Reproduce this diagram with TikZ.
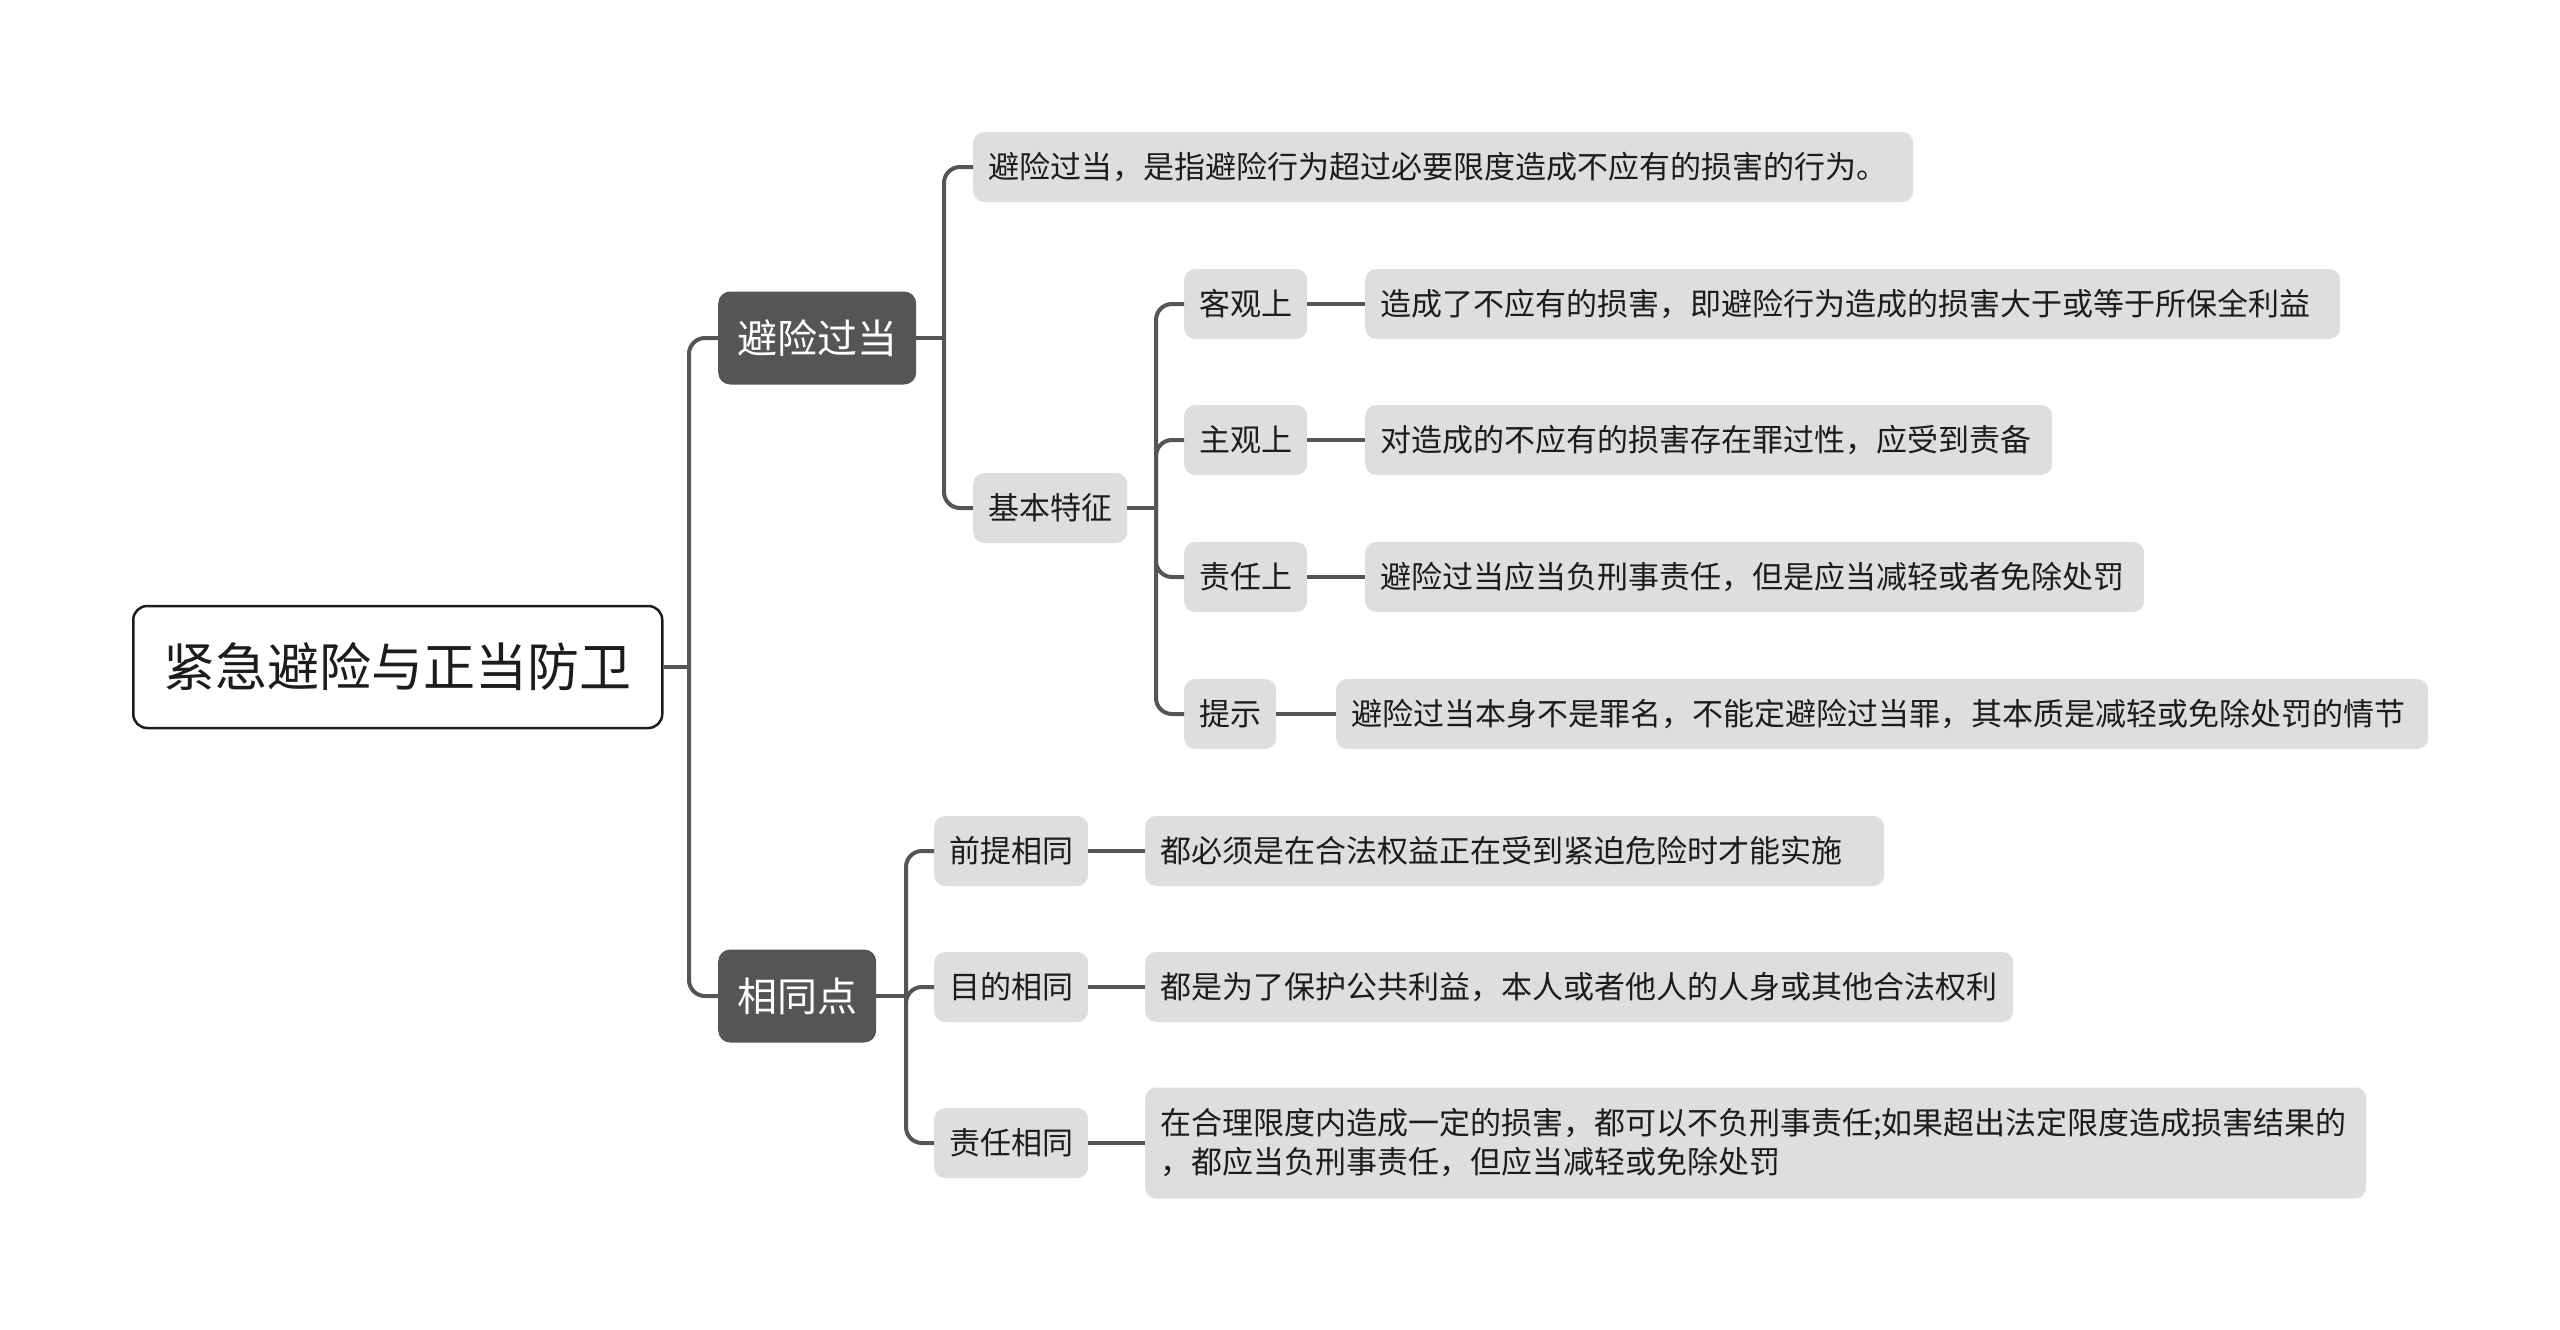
\documentclass[tikz,border=0pt]{standalone}
\usepackage{fontspec}
\setmainfont{Noto Sans CJK SC}
\definecolor{lineGray}{RGB}{85,85,85}
\definecolor{nodeDark}{RGB}{85,85,85}
\definecolor{nodeLight}{RGB}{222,222,222}
\definecolor{textDark}{RGB}{28,28,28}

\begin{document}
\begin{tikzpicture}[x=1pt, y=-1pt,
    conn/.style={draw=lineGray, line width=4pt},
    branch/.style={conn, rounded corners=16pt},
    rootbox/.style={anchor=west, draw=textDark, line width=2.5pt, fill=white,
      rounded corners=14pt, minimum width=529pt, minimum height=122pt,
      text=textDark, font=\fontsize{52pt}{60pt}\selectfont},
    mainbox/.style={anchor=west, fill=nodeDark, text=white, rounded corners=12pt,
      inner xsep=19pt, minimum height=93pt, font=\fontsize{40pt}{48pt}\selectfont},
    subbox/.style={anchor=west, fill=nodeLight, text=textDark, rounded corners=11pt,
      inner xsep=15pt, minimum height=70pt, font=\fontsize{31pt}{39pt}\selectfont},
    leafbox/.style={subbox, align=left, text width=#1}]
    \useasboundingbox (0,0) rectangle (2560,1330);

    % junctions
    \coordinate (j0) at (689,667);
    \coordinate (j1) at (944,338);
    \coordinate (j2) at (1156,508);
    \coordinate (j3) at (906,996);

    \node[rootbox] (root) at (132,667) {紧急避险与正当防卫};
    \node[mainbox] (over) at (718,338) {避险过当};
    \node[mainbox] (same) at (718,996) {相同点};

    \node[leafbox=910pt] (def) at (973,167) {避险过当，是指避险行为超过必要限度造成不应有的损害的行为。};
    \node[subbox] (feat) at (973,508) {基本特征};

    \node[subbox] (obj) at (1184,304) {客观上};
    \node[subbox] (subj) at (1184,440) {主观上};
    \node[subbox] (resp) at (1184,577) {责任上};
    \node[subbox] (hint) at (1184,714) {提示};
    \node[leafbox=945pt] (objT) at (1365,304) {造成了不应有的损害，即避险行为造成的损害大于或等于所保全利益};
    \node[leafbox=657pt] (subjT) at (1365,440) {对造成的不应有的损害存在罪过性，应受到责备};
    \node[leafbox=749pt] (respT) at (1365,577) {避险过当应当负刑事责任，但是应当减轻或者免除处罚};
    \node[leafbox=1062pt] (hintT) at (1336,714) {避险过当本身不是罪名，不能定避险过当罪，其本质是减轻或免除处罚的情节};

    \node[subbox] (prem) at (934,851) {前提相同};
    \node[subbox] (goal) at (934,987) {目的相同};
    \node[subbox] (duty) at (934,1143) {责任相同};
    \node[leafbox=709pt] (premT) at (1145,851) {都必须是在合法权益正在受到紧迫危险时才能实施};
    \node[leafbox=838pt] (goalT) at (1145,987) {都是为了保护公共利益，本人或者他人的人身或其他合法权利};
    \node[leafbox=1191pt, minimum height=111pt] (dutyT) at (1145,1143)
      {在合理限度内造成一定的损害，都可以不负刑事责任;如果超出法定限度造成损害结果的\\，都应当负刑事责任，但应当减轻或免除处罚};

    \draw[conn] (root.east) -- (j0);
    \draw[branch] (j0) |- (over.west);
    \draw[branch] (j0) |- (same.west);

    \draw[conn] (over.east) -- (j1);
    \draw[branch] (j1) |- (def.west);
    \draw[branch] (j1) |- (feat.west);

    \draw[conn] (feat.east) -- (j2);
    \foreach \c in {obj,subj,resp,hint}
      \draw[branch] (j2) |- (\c.west);

    \draw[conn] (same.east) -- (j3);
    \foreach \c in {prem,goal,duty}
      \draw[branch] (j3) |- (\c.west);

    \foreach \a/\b in {obj/objT,subj/subjT,resp/respT,hint/hintT,prem/premT,goal/goalT,duty/dutyT}
      \draw[conn] (\a.east) -- (\b.west);
\end{tikzpicture}
\end{document}
